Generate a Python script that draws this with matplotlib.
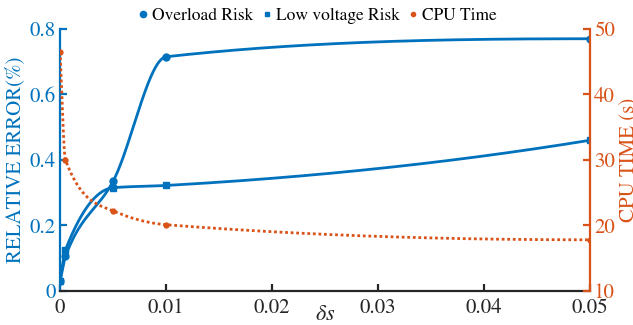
import numpy as np
import matplotlib
matplotlib.use("Agg")
from matplotlib import pyplot as plt
from matplotlib.lines import Line2D

plt.rcParams['font.family'] = ['STIXGeneral', 'Liberation Serif', 'DejaVu Serif']
plt.rcParams['mathtext.fontset'] = 'stix'

# data
ds = [0.0, 0.0005, 0.005, 0.01, 0.05]
overload = [0.03, 0.105, 0.335, 0.715, 0.77]
low_voltage = [0.03, 0.125, 0.315, 0.322, 0.46]
cpu_time = [46.5, 30.0, 22.2, 20.1, 17.8]

BLUE = '#0072BD'
ORANGE = '#D95319'
DARK = '#262626'


def pchip(x, y, xn):
    # shape preserving piecewise cubic, only to draw the smooth line
    x = np.asarray(x, float); y = np.asarray(y, float)
    h = np.diff(x); d = np.diff(y) / h
    n = len(x)
    m = np.zeros(n)
    for k in range(1, n - 1):
        if d[k - 1] * d[k] > 0:
            w1 = 2 * h[k] + h[k - 1]
            w2 = h[k] + 2 * h[k - 1]
            m[k] = (w1 + w2) / (w1 / d[k - 1] + w2 / d[k])
    def endslope(h0, h1, d0, d1):
        s = ((2 * h0 + h1) * d0 - h0 * d1) / (h0 + h1)
        if np.sign(s) != np.sign(d0):
            s = 0.0
        elif np.sign(d0) != np.sign(d1) and abs(s) > abs(3 * d0):
            s = 3 * d0
        return s
    m[0] = endslope(h[0], h[1], d[0], d[1])
    m[-1] = endslope(h[-1], h[-2], d[-1], d[-2])
    idx = np.clip(np.searchsorted(x, xn) - 1, 0, n - 2)
    t = (xn - x[idx]) / h[idx]
    h00 = 2 * t**3 - 3 * t**2 + 1
    h10 = t**3 - 2 * t**2 + t
    h01 = -2 * t**3 + 3 * t**2
    h11 = t**3 - t**2
    return h00 * y[idx] + h10 * h[idx] * m[idx] + h01 * y[idx + 1] + h11 * h[idx] * m[idx + 1]


xs = np.linspace(0, 0.05, 2000)

fig = plt.figure(figsize=(6.33, 3.25), dpi=100)
ax = fig.add_axes([0.095, 0.105, 0.837, 0.806])
ax2 = ax.twinx()

ax.plot(xs, pchip(ds, overload, xs), color=BLUE, lw=2)
ax.plot(ds, overload, 'o', color=BLUE, ms=5)
ax.plot(xs, pchip(ds, low_voltage, xs), color=BLUE, lw=2)
ax.plot(ds, low_voltage, 's', color=BLUE, ms=4)

ax2.plot(xs, pchip(ds, cpu_time, xs), color=ORANGE, lw=2, ls=(0, (1, 1)))
ax2.plot(ds, cpu_time, 'o', color=ORANGE, ms=3.5)

ax.set_xlim(0, 0.05)
ax.set_ylim(0, 0.8)
ax2.set_ylim(10, 50)
ax.set_xticks([0, 0.01, 0.02, 0.03, 0.04, 0.05])
ax.set_xticklabels(['0', '0.01', '0.02', '0.03', '0.04', '0.05'])
ax.set_yticks([0, 0.2, 0.4, 0.6, 0.8])
ax.set_yticklabels(['0', '0.2', '0.4', '0.6', '0.8'])
ax2.set_yticks([10, 20, 30, 40, 50])

ax.spines['top'].set_visible(False)
ax2.spines['top'].set_visible(False)
ax.spines['left'].set_color(BLUE)
ax.spines['bottom'].set_color(DARK)
ax.spines['right'].set_visible(False)
ax2.spines['left'].set_visible(False)
ax2.spines['bottom'].set_visible(False)
ax2.spines['right'].set_color(ORANGE)
for a in (ax, ax2):
    for sp in a.spines.values():
        sp.set_linewidth(1.6)

ax.tick_params(axis='x', direction='in', colors=DARK, labelsize=15, length=5, width=1.6, pad=5)
ax.tick_params(axis='y', direction='in', colors=BLUE, labelsize=15, length=5, width=1.6, pad=3)
ax2.tick_params(axis='y', direction='in', colors=ORANGE, labelsize=15, length=5, width=1.6, pad=3)

ax.set_ylabel('RELATIVE ERROR(%)', color=BLUE, fontsize=15, labelpad=3)
ax2.set_ylabel('CPU TIME (s)', color=ORANGE, fontsize=15, labelpad=3)
ax.set_xlabel(r'$\delta s$', color=DARK, fontsize=16, labelpad=-9)

handles = [
    Line2D([], [], marker='o', ls='none', color=BLUE, ms=4.5),
    Line2D([], [], marker='s', ls='none', color=BLUE, ms=3.5),
    Line2D([], [], marker='o', ls='none', color=ORANGE, ms=3),
]
fig.legend(handles, ['Overload Risk', 'Low voltage Risk', 'CPU Time'], loc='center',
           bbox_to_anchor=(0.5, 0.95), ncol=3, frameon=False, fontsize=12.5,
           handletextpad=0.1, columnspacing=0.4, handlelength=0.8)

fig.savefig('out.png', dpi=100)
